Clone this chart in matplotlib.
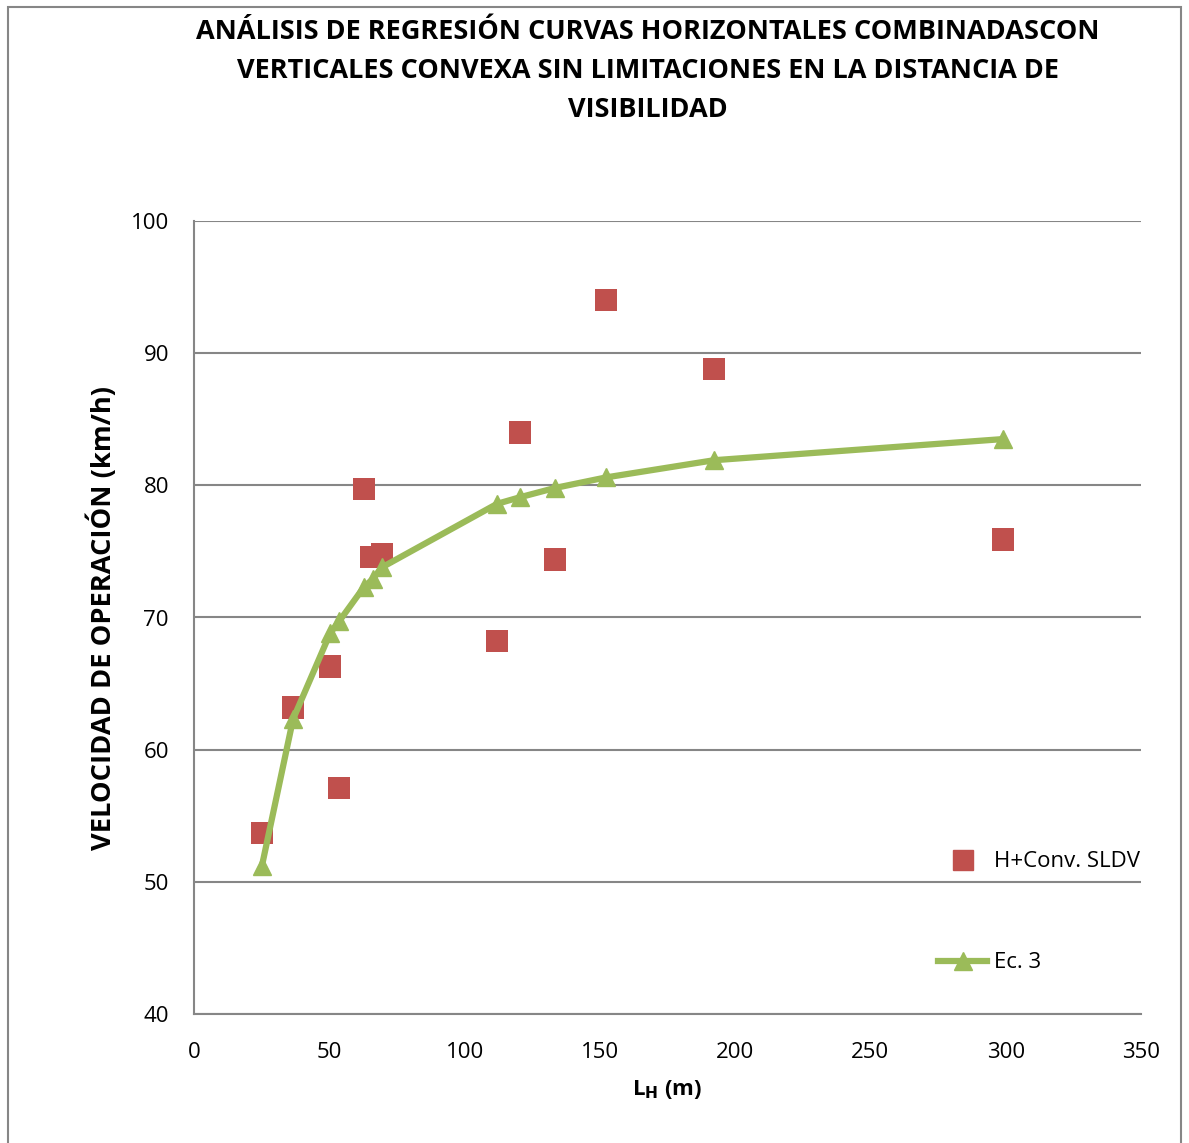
import matplotlib
matplotlib.use("Agg")
import matplotlib.pyplot as plt
from matplotlib.patches import Rectangle
from matplotlib.lines import Line2D

plt.rcParams['font.family'] = ['Open Sans', 'DejaVu Sans']

# Observed operating speed vs. horizontal curve length
obs_length = [25.1, 36.6, 50.3, 53.6, 62.8, 65.4, 69.5, 112.0, 120.5, 133.4, 152.3, 192.2, 299.0]
obs_speed = [53.7, 63.2, 66.3, 57.1, 79.7, 74.6, 74.8, 68.2, 84.0, 74.4, 94.0, 88.8, 75.9]

# Regression model (Ec. 3)
model_length = [25.1, 36.6, 50.3, 53.6, 62.8, 66.0, 69.5, 112.0, 120.5, 133.4, 152.3, 192.2, 299.0]
model_speed = [51.2, 62.3, 68.8, 69.7, 72.3, 72.9, 73.8, 78.6, 79.1, 79.8, 80.6, 81.9, 83.5]

x_ticks = [0, 50, 100, 150, 200, 250, 300, 350]
y_ticks = [40, 50, 60, 70, 80, 90, 100]

RED = '#C0504D'
GREEN = '#9BBB59'
GRID = '#868686'

fig = plt.figure(figsize=(11.89, 11.43), dpi=100)
fig.patches.append(Rectangle((8 / 1189, -0.01), (1181 - 8) / 1189, 1 - 7 / 1143 + 0.01,
                             transform=fig.transFigure, fill=False,
                             edgecolor='#868686', linewidth=1.5))

ax = fig.add_axes([194 / 1189, 1 - 1014 / 1143, (1141 - 194) / 1189, (1014 - 221) / 1143])

ax.scatter(obs_length, obs_speed, marker='s', s=260, color=RED, zorder=3,
           edgecolors='none')
ax.plot(model_length, model_speed, color=GREEN, linewidth=4.5, marker='^',
        markersize=13, zorder=4)

ax.set_xlim(0, 350)
ax.set_ylim(40, 100)
ax.set_xticks(x_ticks)
ax.set_yticks(y_ticks)
ax.tick_params(axis='both', length=0, labelsize=16)
ax.tick_params(axis='y', pad=18)
ax.tick_params(axis='x', pad=20)
ax.grid(axis='y', color=GRID, linewidth=1.5)
ax.set_axisbelow(True)
for side in ('top', 'right'):
    ax.spines[side].set_visible(False)
for side in ('left', 'bottom'):
    ax.spines[side].set_color(GRID)
    ax.spines[side].set_linewidth(1.5)

ax.set_xlabel(r'L$_\mathbf{H}$ (m)', fontsize=16, fontweight='bold', labelpad=11)
ax.set_ylabel('VELOCIDAD DE OPERACIÓN (km/h)', fontsize=19.6, fontweight='bold', labelpad=10)

fig.text(648 / 1189, 1 - 71 / 1143,
         'ANÁLISIS DE REGRESIÓN CURVAS HORIZONTALES COMBINADASCON\n'
         'VERTICALES CONVEXA SIN LIMITACIONES EN LA DISTANCIA DE\n'
         'VISIBILIDAD',
         ha='center', va='center', fontsize=19.5, fontweight='bold', linespacing=1.63)

handles = [
    Line2D([], [], linestyle='none', marker='s', markersize=14, color=RED),
    Line2D([], [], color=GREEN, linewidth=4.5, marker='^', markersize=13),
]
ax.legend(handles, ['H+Conv. SLDV', 'Ec. 3'], loc='lower right',
          bbox_to_anchor=(1.02, 0.026), frameon=False, fontsize=16,
          labelspacing=3.6, handlelength=2.2, handletextpad=0.3)

fig.savefig('out.png', dpi=100)
